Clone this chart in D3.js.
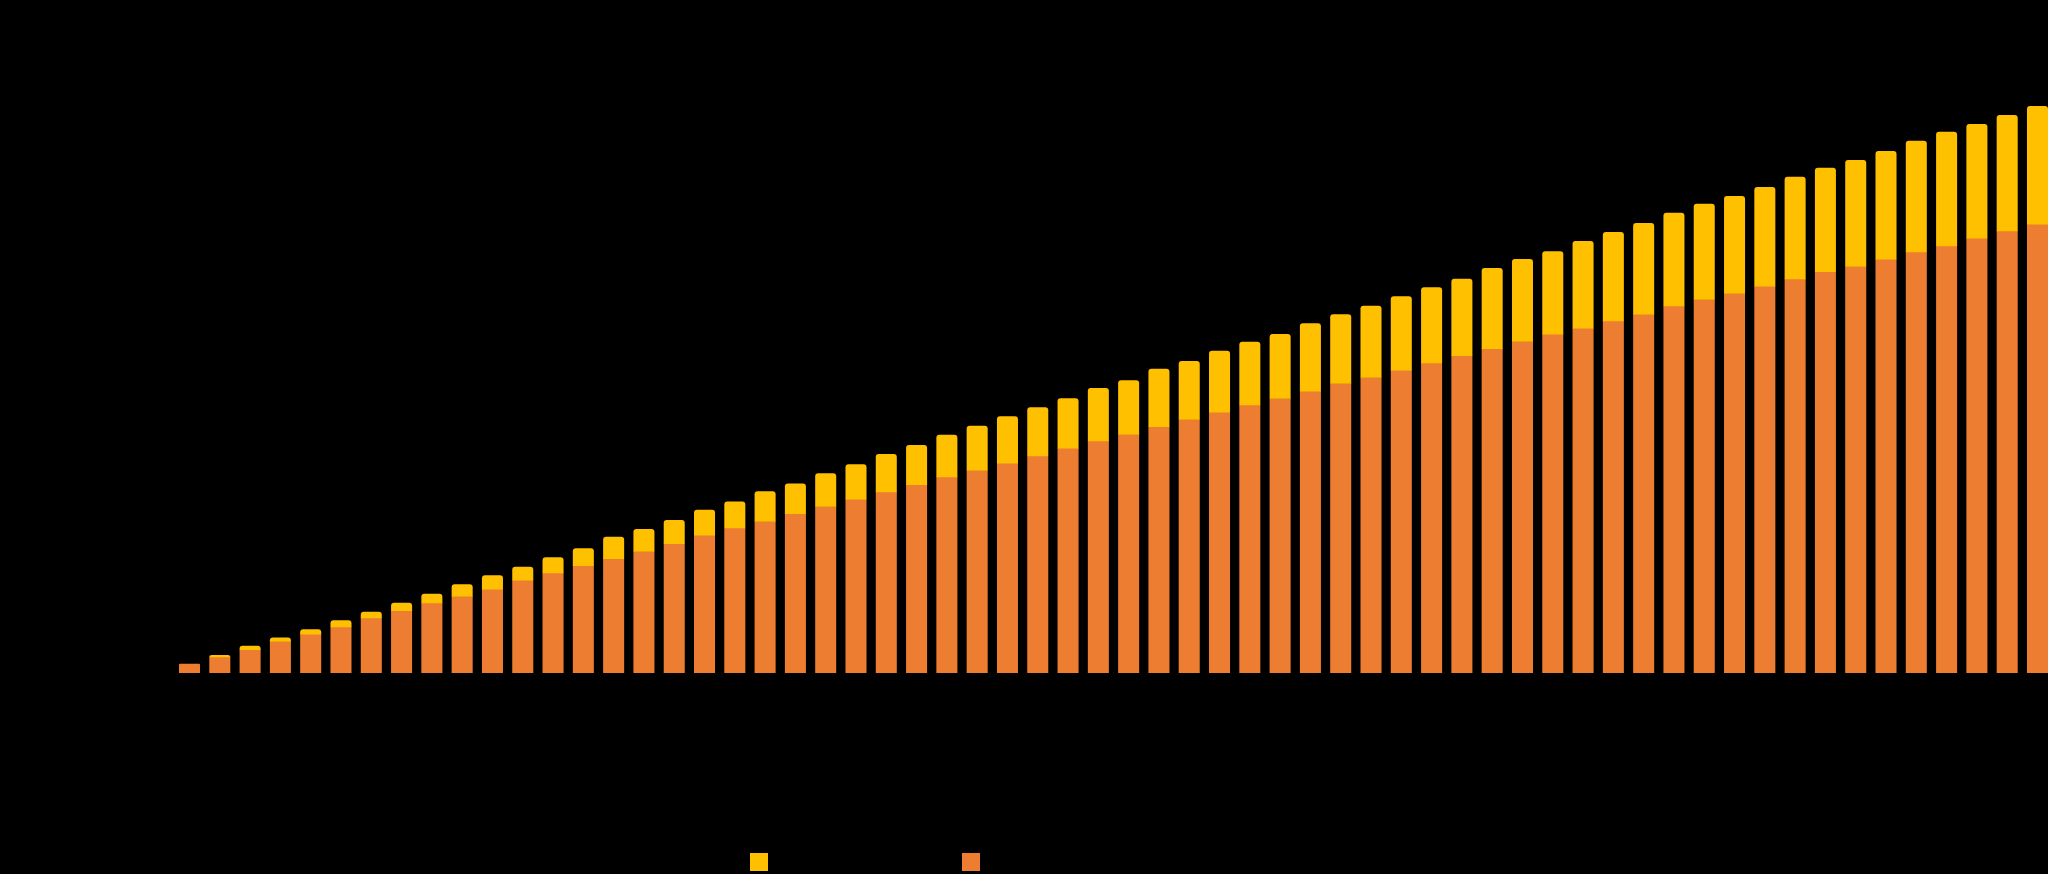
<!DOCTYPE html>
<html>
<head>
<meta charset="utf-8">
<script src="https://d3js.org/d3.v7.min.js"></script>
<style>
  html, body { margin: 0; padding: 0; background: #000; }
  svg { display: block; background: #000; }
  text { font-family: "Open Sans", "Liberation Sans", sans-serif; fill: #000; }
</style>
</head>
<body>
<svg class="chart" width="2048" height="874"></svg>
<script>
// categories along the x axis (labels are black on black in the source)
const periods = ["1","2","3","4","5","6","7","8","9","10","11","12","13","14","15","16",
  "17","18","19","20","21","22","23","24","25","26","27","28","29","30","31","32",
  "33","34","35","36","37","38","39","40","41","42","43","44","45","46","47","48",
  "49","50","51","52","53","54","55","56","57","58","59","60","61","62"];

// lower (orange) segment
const seriesLower = [1.55,2.7,3.9,5.3,6.5,7.7,9.2,10.4,11.7,12.8,14.0,15.5,16.7,17.9,19.1,20.3,
  21.6,23.0,24.2,25.3,26.6,27.8,29.0,30.2,31.4,32.7,33.8,35.0,36.2,37.5,38.7,39.8,
  41.1,42.3,43.5,44.7,45.8,47.0,48.3,49.3,50.5,51.7,52.9,54.1,55.3,56.5,57.5,58.7,
  59.8,61.2,62.3,63.3,64.5,65.7,66.9,67.8,69.0,70.2,71.2,72.5,73.7,74.8];

// upper (yellow) segment
const seriesUpper = [0,0.3,0.65,0.6,0.8,1.1,1.0,1.3,1.5,2.0,2.3,2.2,2.6,2.9,3.6,3.7,
  3.9,4.2,4.4,5.0,5.0,5.5,5.8,6.3,6.6,7.0,7.4,7.8,8.1,8.3,8.8,9.0,
  9.6,9.7,10.2,10.5,10.7,11.3,11.5,11.9,12.3,12.6,12.8,13.4,13.7,13.8,14.5,14.8,
  15.2,15.5,15.9,16.2,16.5,17.0,17.3,17.7,18.0,18.5,19.0,19.0,19.3,19.7];

const seriesNames = ["Series 2", "Series 1"];   // legend order: yellow, orange
const yTicks = [0, 20, 40, 60, 80, 100];

const colLower = "#ED7D31";
const colUpper = "#FFC000";

const svg = d3.select(".chart");
const plotLeft = 179, plotRight = 2048, plotTop = 73, plotBottom = 673;

let xs = d3.scaleBand().domain(periods).range([plotLeft, plotRight]).paddingInner(0.306).paddingOuter(0);
let ys = d3.scaleLinear().domain([0, 100]).range([plotBottom, plotTop]);

// rounded top corners, flat bottom
function roundTop(x, y, w, h, r) {
  r = Math.min(r, h, w / 2);
  return "M" + x + "," + (y + h) + "V" + (y + r) + "Q" + x + "," + y + " " + (x + r) + "," + y +
    "H" + (x + w - r) + "Q" + (x + w) + "," + y + " " + (x + w) + "," + (y + r) + "V" + (y + h) + "Z";
}

const data = periods.map((p, i) => ({ p: p, lo: seriesLower[i], hi: seriesUpper[i] }));

// y axis (black, invisible on black like the source)
svg.append("g")
  .attr("transform", "translate(" + (plotLeft - 8) + ",0)")
  .call(d3.axisLeft(ys).tickValues(yTicks).tickSize(0))
  .call(g => g.select(".domain").remove())
  .selectAll("text").style("font-size", "14px").attr("fill", "#000");

// x axis labels
svg.append("g")
  .attr("transform", "translate(0," + plotBottom + ")")
  .call(d3.axisBottom(xs).tickSize(0).tickPadding(10))
  .call(g => g.select(".domain").attr("stroke", "#000"))
  .selectAll("text").style("font-size", "14px").attr("fill", "#000");

// orange segments
svg.append("g").selectAll("path.lo")
  .data(data)
  .join("path")
  .attr("class", "lo")
  .attr("fill", colLower)
  .attr("d", d => {
    const y1 = ys(d.lo), h = ys(0) - y1;
    return d.hi > 0 ? "M" + xs(d.p) + "," + y1 + "h" + xs.bandwidth() + "v" + h + "h" + (-xs.bandwidth()) + "Z"
                    : roundTop(xs(d.p), y1, xs.bandwidth(), h, 1);
  });

// yellow segments stacked on top
svg.append("g").selectAll("path.hi")
  .data(data.filter(d => d.hi > 0))
  .join("path")
  .attr("class", "hi")
  .attr("fill", colUpper)
  .attr("d", d => {
    const y1 = ys(d.lo + d.hi), h = ys(d.lo) - y1;
    return roundTop(xs(d.p), y1, xs.bandwidth(), h + 0.5, 3);
  });

// legend
const legend = svg.append("g");
[[colUpper, seriesNames[0], 750], [colLower, seriesNames[1], 962]].forEach(l => {
  legend.append("rect").attr("x", l[2]).attr("y", 853).attr("width", 18).attr("height", 18).attr("fill", l[0]);
  legend.append("text").attr("x", l[2] + 24).attr("y", 867).style("font-size", "16px").text(l[1]);
});
</script>
</body>
</html>
